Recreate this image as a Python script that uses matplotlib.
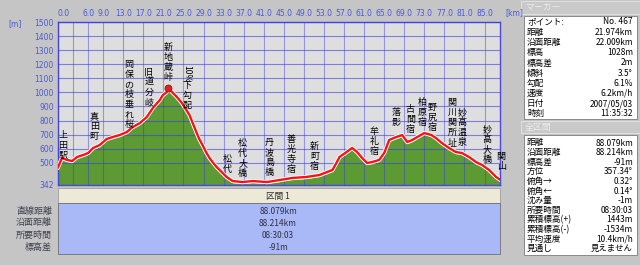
import matplotlib
matplotlib.use("Agg")
import matplotlib.pyplot as plt
from matplotlib.patches import Rectangle
from matplotlib.transforms import offset_copy

plt.rcParams['font.family'] = ['Noto Sans CJK JP', 'DejaVu Sans']

# 標高プロファイル (km, m)
dist_km = [0.0, 0.8, 1.8, 2.8, 3.8, 5.0, 6.0, 7.0, 8.3, 9.7, 10.9, 12.3, 13.7, 14.9,
           16.3, 17.7, 18.9, 20.3, 20.9, 21.7, 22.0, 23.7, 24.7, 26.2, 27.6, 28.2,
           28.8, 29.6, 30.2, 30.8, 31.6, 32.2, 33.6, 34.8, 36.8, 38.8, 41.6, 44.1,
           46.7, 49.5, 52.1, 54.7, 55.5, 56.1, 57.5, 58.6, 59.6, 60.6, 61.6, 62.6,
           64.0, 65.0, 66.0, 67.4, 68.6, 69.6, 70.6, 71.6, 73.0, 74.4, 75.3, 76.5,
           77.9, 79.3, 80.5, 81.9, 83.3, 84.5, 85.9, 87.3, 88.08]
elev_m = [468, 534, 520, 512, 541, 555, 569, 605, 626, 669, 683, 697, 718, 754,
          782, 825, 889, 946, 981, 1003, 1028, 967, 924, 839, 715, 665,
          626, 569, 534, 505, 470, 449, 399, 370, 363, 370, 363, 377,
          392, 399, 413, 449, 500, 541, 576, 605, 576, 534, 498, 505,
          520, 569, 662, 683, 697, 647, 662, 683, 711, 697, 676, 640,
          605, 576, 569, 541, 505, 484, 449, 399, 380]

# 地点名 (名前, km, ラベル上端の標高)
places = ['上田駅', '真田町', '岡保の枝垂れ桜', '旧道分岐', '新地蔵峠', '10%下勾配',
          '松代', '松代大橋', '丹波島橋', '善光寺宿', '新町宿', '牟礼宿', '落影',
          '古間宿', '柏原宿', '野尻宿', '関川関所址', '妙高温泉', '妙高大橋', '関山']
place_km = [1.0, 7.2, 14.1, 18.1, 21.9, 25.7, 33.8, 36.8, 42.1, 46.5, 51.1, 63.0,
            67.4, 70.2, 72.6, 74.6, 78.5, 80.5, 85.5, 88.3]
place_top = [726, 860, 1230, 1173, 1350, 1194, 555, 669, 676, 697, 647, 754,
             889, 910, 960, 924, 960, 889, 768, 576]

x_ticks = [0, 6, 9, 13, 17, 21, 25, 29, 33, 37, 41, 45, 49, 53, 57, 61, 65, 69,
           73, 77, 81, 85]
y_ticks = [342, 500, 600, 700, 800, 900, 1000, 1100, 1200, 1300, 1400, 1500]

marker_keys = ['ポイント:', '距離', '沿面距離', '標高', '標高差', '傾斜', '勾配',
               '速度', '日付', '時刻']
marker_vals = ['No. 467', '21.974km', '22.009km', '1028m', '2m', '3.5°', '6.1%',
               '6.2km/h', '2007/05/03', '11:35:32']
total_keys = ['距離', '沿面距離', '標高差', '方位', '俯角→', '俯角←', '沈み量',
              '所要時間', '累積標高(+)', '累積標高(-)', '平均速度', '見通し']
total_vals = ['88.079km', '88.214km', '-91m', '357.34°', '0.32°', '0.14°', '-1m',
              '08:30:03', '1443m', '-1534m', '10.4km/h', '見えません']
sect_keys = ['直線距離', '沿面距離', '所要時間', '標高差']
sect_vals = ['88.079km', '88.214km', '08:30:03', '-91m']

bg = '#c5c5c5'
blue = '#4a5ad6'

fig = plt.figure(figsize=(6.4, 2.65), dpi=100, facecolor=bg)

# ピクセル座標のオーバーレイ (表など)
ov = fig.add_axes([0, 0, 1, 1], zorder=0)
ov.set_xlim(0, 640)
ov.set_ylim(265, 0)
ov.axis('off')

# プロファイル
ax = fig.add_axes([58 / 640, (265 - 185) / 265, 442 / 640, 163 / 265], zorder=1)
ax.set_facecolor('#dedede')
ax.set_xlim(0, 88.08)
ax.set_ylim(342, 1500)
ax.fill_between(dist_km, [e - 12 for e in elev_m], 342, color='#5c9a34', lw=0, zorder=1)
ax.plot(dist_km, elev_m, color='white', lw=3.0, zorder=3, solid_joinstyle='round')
ax.plot(dist_km, elev_m, color='#ff1010', lw=1.7, zorder=3.1, solid_joinstyle='round')
ax.plot([21.974], [1028], 'o', ms=5, color='#e02020', mec='#802020', mew=0.6, zorder=4)

ax.set_axisbelow(False)
ax.xaxis.tick_top()
ax.set_xticks(x_ticks)
ax.set_xticks([3], minor=True)
ax.set_xticklabels(['%.1f' % v for v in x_ticks], fontsize=5.5, color=blue,
                   family='DejaVu Sans')
ax.get_xticklabels()[0].set_ha('left')
ax.set_yticks(y_ticks)
ax.set_yticklabels([str(v) for v in y_ticks], fontsize=5.5, color=blue,
                   family='DejaVu Sans')
ax.tick_params(which='both', length=0, pad=3)
ax.grid(True, which='both', axis='x', color='#3c3cdc', alpha=0.45, lw=0.8)
ax.grid(True, axis='y', color='#3c3cdc', alpha=0.6, lw=0.8)
for s in ax.spines.values():
    s.set_color('#4a4ae0')
    s.set_linewidth(1.0)

# 縦書きラベル
for name, km, top in zip(places, place_km, place_top):
    off = 0
    chars = list(name)
    if name.startswith('10%'):
        ax.text(km, top, '10%', rotation=-90, ha='center', va='top', fontsize=6.2,
                zorder=5)
        off = 16
        chars = list(name[3:])
    for i, ch in enumerate(chars):
        tr = offset_copy(ax.transData, fig=fig, y=-(off + i * 10), units='dots')
        ax.text(km, top, ch, transform=tr, ha='center', va='top', fontsize=6.5,
                color='black', zorder=5)

ov.text(8, 24, '[m]', fontsize=5.5, color=blue, va='center', family='DejaVu Sans')
ov.text(505, 13, '[km]', fontsize=5.5, color=blue, va='center', family='DejaVu Sans')

# 区間テーブル
ov.add_patch(Rectangle((58, 188), 442, 15, fc='#ece9d8', ec='#a0a0a0', lw=0.6))
ov.add_patch(Rectangle((58, 203), 442, 51, fc='#a9b9f8', ec='#707070', lw=0.6))
ov.text(278, 196, '区間 1', fontsize=6.2, ha='center', va='center', color='#303030')
for i, (k, v) in enumerate(zip(sect_keys, sect_vals)):
    y = 211 + i * 12
    ov.text(52, y, k, fontsize=6.5, ha='right', va='center', color='#404050')
    ov.text(278, y, v, fontsize=6, ha='center', va='center', color='#303040')

# マーカー パネル
ov.add_patch(Rectangle((521, 1), 119, 13, fc='#c9c9c9', ec='#e6e6e6', lw=0.6))
ov.text(525, 7.5, 'マーカー', fontsize=6.4, va='center', color='#ececec')
ov.add_patch(Rectangle((524, 16), 113, 103, fc='white', ec='#7a7a7a', lw=0.6))
for i, (k, v) in enumerate(zip(marker_keys, marker_vals)):
    y = 22 + i * 10.2
    ov.text(527, y, k, fontsize=6.2, va='center', color='black')
    ov.text(633, y, v, fontsize=6, va='center', ha='right', color='black')

ov.add_patch(Rectangle((521, 121), 119, 12, fc='#c9c9c9', ec='#e6e6e6', lw=0.6))
ov.text(525, 127, '全区間', fontsize=6.4, va='center', color='#ececec')
ov.add_patch(Rectangle((524, 135), 113, 120, fc='white', ec='#7a7a7a', lw=0.6))
for i, (k, v) in enumerate(zip(total_keys, total_vals)):
    y = 143 + i * 9.6
    ov.text(527, y, k, fontsize=6.2, va='center', color='black')
    ov.text(633, y, v, fontsize=6, va='center', ha='right', color='black')

fig.savefig('out.png', dpi=100, facecolor=bg)
